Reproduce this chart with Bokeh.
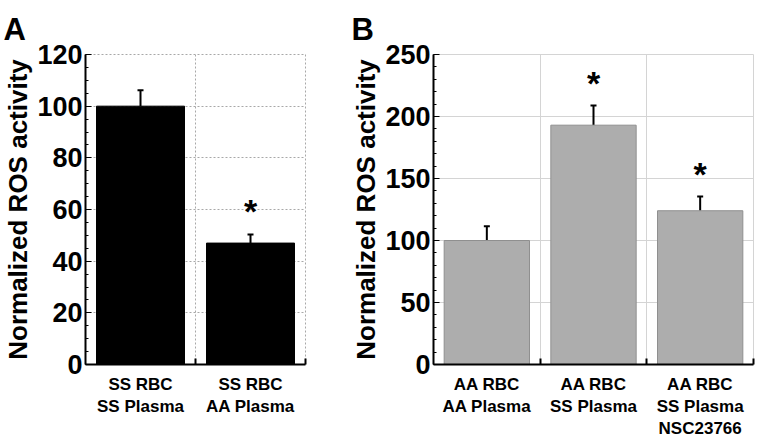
from bokeh.plotting import figure
from bokeh.models import Range1d, FixedTicker, Whisker, TeeHead, ColumnDataSource
from bokeh.layouts import row
from bokeh.embed import file_html
from bokeh.resources import INLINE
from bokeh.core.properties import value

FONT = "Liberation Sans"

# ---- Panel A data ----
a_categories = ["SS RBC\nSS Plasma", "SS RBC\nAA Plasma"]
a_values = [100, 47]
a_errors = [6.2, 3.3]
a_star_y = [None, 59.5]

# ---- Panel B data ----
b_categories = ["AA RBC\nAA Plasma", "AA RBC\nSS Plasma", "AA RBC\nSS Plasma\nNSC23766"]
b_values = [100, 193, 124]
b_errors = [11.5, 15.8, 11.4]
b_star_y = [None, 227, 154]


def panel(letter, categories, values, errors, star_y, y_max, y_step, n_minor,
          fill, line, grid_color, grid_dash, width, mbr):
    n = len(categories)
    xs = [i + 1 for i in range(n)]
    p = figure(width=width, height=440, output_backend="svg", toolbar_location=None,
               x_range=Range1d(0.5, n + 0.5), y_range=Range1d(0, y_max),
               min_border_left=85, min_border_right=mbr, min_border_top=54,
               min_border_bottom=73)
    p.title.text = letter
    p.title.text_font = FONT
    p.title.text_font_size = "31px"
    p.title.text_font_style = "bold"
    p.title.text_color = "black"
    p.title.align = "left"
    p.title.vertical_align = "bottom"
    p.title.offset = -82
    p.title.standoff = 16

    src = ColumnDataSource(dict(x=xs, top=values,
                                upper=[v + e for v, e in zip(values, errors)]))
    p.vbar(x="x", top="top", width=0.8, bottom=0, source=src,
           fill_color=fill, line_color=line, line_width=1)
    p.add_layout(Whisker(base="x", lower="top", upper="upper", source=src,
                         line_color="black", line_width=2, lower_head=None,
                         upper_head=TeeHead(size=6, line_color="black", line_width=2)))
    sx = [x for x, s in zip(xs, star_y) if s is not None]
    sy = [s for s in star_y if s is not None]
    p.text(x=sx, y=sy, text=["*"] * len(sx), text_font=value(FONT),
           text_font_style="bold", text_font_size="34px", text_align="center",
           text_baseline="middle", text_color="black")

    # x axis: labels at centers, ticks at category boundaries
    p.xaxis.ticker = FixedTicker(ticks=xs, minor_ticks=[x + 0.5 for x in xs])
    p.xaxis.major_label_overrides = {x: c for x, c in zip(xs, categories)}
    p.xaxis.major_tick_in = 0
    p.xaxis.major_tick_out = 0
    p.xaxis.minor_tick_in = 6
    p.xaxis.minor_tick_out = 0
    p.xaxis.minor_tick_line_width = 2
    p.xaxis.minor_tick_line_color = "black"
    p.xaxis.major_label_text_font = FONT
    p.xaxis.major_label_text_font_style = "bold"
    p.xaxis.major_label_text_font_size = "17px"
    p.xaxis.major_label_text_line_height = 1.16
    p.xaxis.major_label_text_color = "black"
    p.xaxis.major_label_standoff = 10
    p.xaxis.axis_line_width = 2
    p.xaxis.axis_line_color = "black"

    # y axis
    p.yaxis.ticker = FixedTicker(ticks=list(range(0, y_max + 1, y_step)),
                                 minor_ticks=list(range(0, y_max + 1, y_step // n_minor)))
    p.yaxis.axis_label = "Normalized ROS activity"
    p.yaxis.axis_label_text_font = FONT
    p.yaxis.axis_label_text_font_style = "bold"
    p.yaxis.axis_label_text_font_size = "26px"
    p.yaxis.axis_label_text_color = "black"
    p.yaxis.axis_label_standoff = 1
    p.yaxis.major_label_text_font = FONT
    p.yaxis.major_label_text_font_style = "bold"
    p.yaxis.major_label_text_font_size = "27px"
    p.yaxis.major_label_text_color = "black"
    p.yaxis.major_label_standoff = 3
    p.yaxis.major_tick_in = 6
    p.yaxis.major_tick_out = 0
    p.yaxis.major_tick_line_color = "black"
    p.yaxis.minor_tick_in = 3
    p.yaxis.minor_tick_out = 0
    p.yaxis.minor_tick_line_color = "black"
    p.yaxis.axis_line_width = 2
    p.yaxis.axis_line_color = "black"

    # grids
    p.ygrid.grid_line_color = grid_color
    p.ygrid.grid_line_dash = grid_dash
    p.xgrid.ticker = FixedTicker(ticks=[x + 0.5 for x in xs])
    p.xgrid.grid_line_color = grid_color
    p.xgrid.grid_line_dash = grid_dash
    p.outline_line_color = grid_color
    p.outline_line_dash = grid_dash
    p.background_fill_color = "white"
    p.border_fill_color = "white"
    return p


pa = panel("A", a_categories, a_values, a_errors, a_star_y, 120, 20, 4,
           "black", "black", "#a8a8a8", "2 2", 348, 43)
pb = panel("B", b_categories, b_values, b_errors, b_star_y, 250, 50, 5,
           "#adadad", "#8f8f8f", "#d4d4d4", "solid", 409, 4)

layout = row(pa, pb)
open("out.html", "w").write(file_html(layout, INLINE))
